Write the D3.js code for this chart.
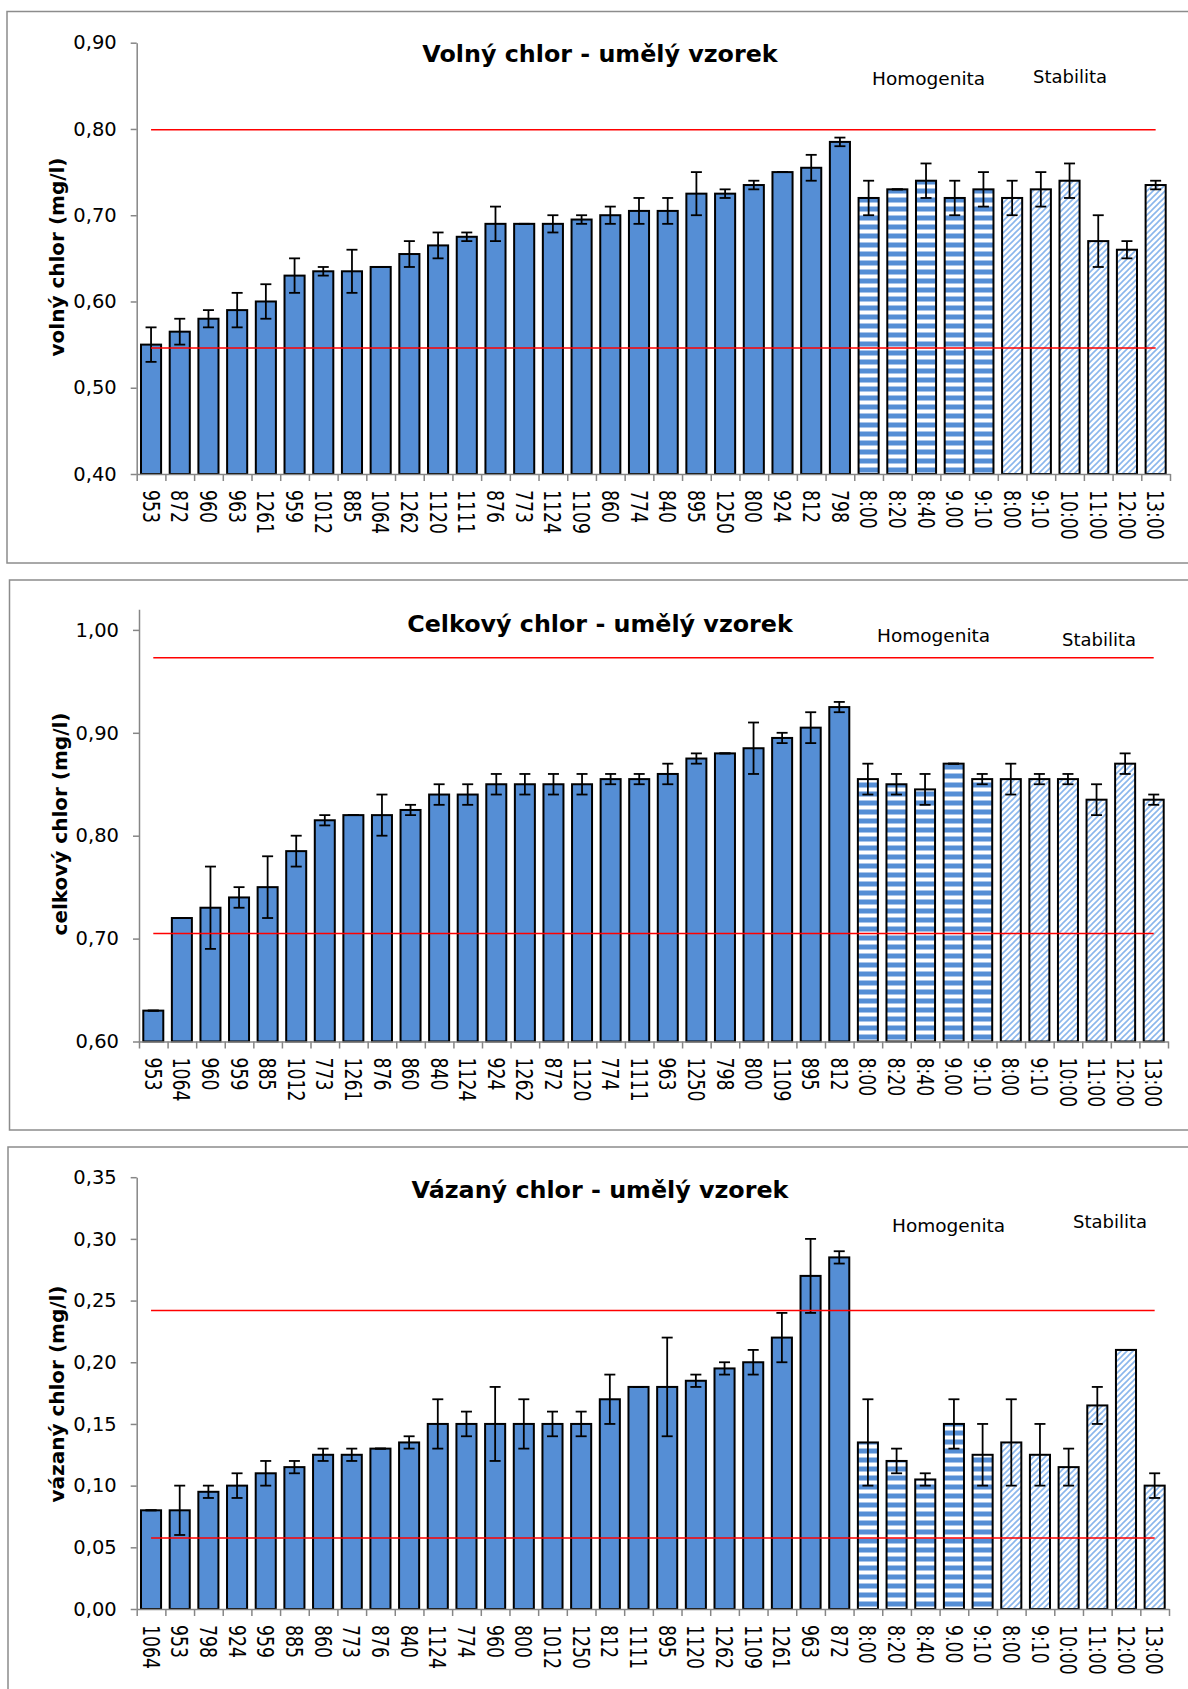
<!DOCTYPE html>
<html>
<head>
<meta charset="utf-8">
<script src="https://cdn.jsdelivr.net/npm/d3@7"></script>
<style>
  body { margin: 0; background: #fff; }
  text { font-family: "DejaVu Sans", Verdana, sans-serif; fill: #000; }
</style>
</head>
<body>
<svg id="chart"></svg>
<script>
const W = 1188, H = 1689;

// category labels shared by all three charts
const homLabels = ["8:00", "8:20", "8:40", "9.00", "9:10"];
const stabLabels = ["8:00", "9:10", "10:00", "11:00", "12:00", "13:00"];

// Volný chlor
const volnySamples = ["953","872","960","963","1261","959","1012","885","1064","1262","1120","1111","876","773","1124","1109","860","774","840","895","1250","800","924","812","798"];
const volnyValues = [0.550,0.565,0.580,0.590,0.600,0.630,0.635,0.635,0.640,0.655,0.665,0.675,0.690,0.690,0.690,0.695,0.700,0.705,0.705,0.725,0.725,0.735,0.750,0.755,0.785,
  0.720,0.730,0.740,0.720,0.730,
  0.720,0.730,0.740,0.670,0.660,0.735];
const volnyErrors = [0.020,0.015,0.010,0.020,0.020,0.020,0.005,0.025,0,0.015,0.015,0.005,0.020,0,0.010,0.005,0.010,0.015,0.015,0.025,0.005,0.005,0,0.015,0.005,
  0.020,0,0.020,0.020,0.020,
  0.020,0.020,0.020,0.030,0.010,0.005];
const volnyLimits = [0.546, 0.799];
const volnyTicks = [0.40, 0.50, 0.60, 0.70, 0.80, 0.90];

// Celkový chlor
const celkovySamples = ["953","1064","960","959","885","1012","773","1261","876","860","840","1124","924","1262","872","1120","774","1111","963","1250","798","800","1109","895","812"];
const celkovyValues = [0.630,0.720,0.730,0.740,0.750,0.785,0.815,0.820,0.820,0.825,0.840,0.840,0.850,0.850,0.850,0.850,0.855,0.855,0.860,0.875,0.880,0.885,0.895,0.905,0.925,
  0.855,0.850,0.845,0.870,0.855,
  0.855,0.855,0.855,0.835,0.870,0.835];
const celkovyErrors = [0,0,0.040,0.010,0.030,0.015,0.005,0,0.020,0.005,0.010,0.010,0.010,0.010,0.010,0.010,0.005,0.005,0.010,0.005,0,0.025,0.005,0.015,0.005,
  0.015,0.010,0.015,0,0.005,
  0.015,0.005,0.005,0.015,0.010,0.005];
const celkovyLimits = [0.705, 0.973];
const celkovyTicks = [0.60, 0.70, 0.80, 0.90, 1.00];

// Vázaný chlor
const vazanySamples = ["1064","953","798","924","959","885","860","773","876","840","1124","774","960","800","1012","1250","812","1111","895","1120","1262","1109","1261","963","872"];
const vazanyValues = [0.080,0.080,0.095,0.100,0.110,0.115,0.125,0.125,0.130,0.135,0.150,0.150,0.150,0.150,0.150,0.150,0.170,0.180,0.180,0.185,0.195,0.200,0.220,0.270,0.285,
  0.135,0.120,0.105,0.150,0.125,
  0.135,0.125,0.115,0.165,0.210,0.100];
const vazanyErrors = [0,0.020,0.005,0.010,0.010,0.005,0.005,0.005,0,0.005,0.020,0.010,0.030,0.020,0.010,0.010,0.020,0,0.040,0.005,0.005,0.010,0.020,0.030,0.005,
  0.035,0.010,0.005,0.020,0.025,
  0.035,0.025,0.015,0.015,0,0.010];
const vazanyLimits = [0.0575, 0.242];
const vazanyTicks = [0.00, 0.05, 0.10, 0.15, 0.20, 0.25, 0.30, 0.35];

const svg = d3.select("#chart").attr("width", W).attr("height", H);

// fill patterns
const defs = svg.append("defs");
const hs = defs.append("pattern").attr("id", "hstripe")
  .attr("patternUnits", "userSpaceOnUse").attr("width", 10).attr("height", 9);
hs.append("rect").attr("width", 10).attr("height", 9).attr("fill", "#fff");
hs.append("rect").attr("y", 0).attr("width", 10).attr("height", 4).attr("fill", "#558ed5");
hs.append("rect").attr("y", 4).attr("width", 10).attr("height", 1).attr("fill", "#a9c5ea");
hs.append("rect").attr("y", 8).attr("width", 10).attr("height", 1).attr("fill", "#a9c5ea");

const dg = defs.append("pattern").attr("id", "diag")
  .attr("patternUnits", "userSpaceOnUse").attr("width", 6).attr("height", 6);
dg.append("rect").attr("width", 6).attr("height", 6).attr("fill", "#fff");
dg.append("path").attr("d", "M-1,1 l2,-2 M0,6 l6,-6 M5,7 l2,-2")
  .attr("stroke", "#8ab6ec").attr("stroke-width", 1.6);

const fmt = v => d3.format(".2f")(v).replace(".", ",");

function drawPanel(p) {
  const g = svg.append("g");

  g.append("rect")
    .attr("x", p.box[0]).attr("y", p.box[1])
    .attr("width", 1300).attr("height", p.box[2] - p.box[1])
    .attr("fill", "none").attr("stroke", "#8c8c8c").attr("stroke-width", 1.5);

  const labels = p.samples.concat(homLabels, stabLabels);
  const n = labels.length;
  const nSolid = p.samples.length, nHom = homLabels.length;

  const x = d3.scaleBand().domain(d3.range(n)).range([p.x0, p.x1])
    .paddingInner(0.3).paddingOuter(0.15);
  const xb = d3.scaleLinear().domain([0, n]).range([p.x0, p.x1]);
  const y = d3.scaleLinear().domain(p.domain).range([p.yBottom, p.yTop]);
  const bw = x.bandwidth();

  // y axis
  const ya = g.append("g").attr("transform", `translate(${p.x0},0)`)
    .call(d3.axisLeft(y).tickValues(p.ticks).tickFormat(fmt).tickSize(6).tickSizeOuter(0).tickPadding(14));
  ya.select(".domain").attr("stroke", "#868686").attr("stroke-width", 1.5);
  ya.selectAll(".tick line").attr("stroke", "#868686").attr("stroke-width", 1.5);
  ya.selectAll(".tick text").attr("font-size", 19.5).attr("font-family", "DejaVu Sans").attr("fill", "#000");

  // bars
  g.selectAll(".bar").data(p.values).join("rect")
    .attr("x", (d, i) => x(i)).attr("width", bw)
    .attr("y", d => y(d)).attr("height", d => p.yBottom - y(d))
    .attr("fill", (d, i) => i < nSolid ? "#558ed5" : (i < nSolid + nHom ? "url(#hstripe)" : "url(#diag)"))
    .attr("stroke", "#000").attr("stroke-width", 2);

  // x axis with ticks on category boundaries
  const xa = g.append("g").attr("transform", `translate(0,${p.yBottom})`)
    .call(d3.axisBottom(xb).tickValues(d3.range(n + 1)).tickFormat("").tickSize(7).tickSizeOuter(0));
  xa.select(".domain").attr("stroke", "#868686").attr("stroke-width", 1.5);
  xa.selectAll(".tick line").attr("stroke", "#868686").attr("stroke-width", 1.5);

  g.selectAll(".xlab").data(labels).join("text")
    .attr("transform", (d, i) => `translate(${x(i) + bw / 2},${p.yBottom + 16}) rotate(90) scale(1,1.35)`)
    .attr("dy", "0.36em")
    .attr("font-size", 17.3)
    .text(d => d);

  // error bars
  const cap = 5.5;
  const eb = g.selectAll(".err").data(p.values).join("g")
    .attr("stroke", "#000").attr("stroke-width", 1.8);
  eb.append("line")
    .attr("x1", (d, i) => x(i) + bw / 2).attr("x2", (d, i) => x(i) + bw / 2)
    .attr("y1", (d, i) => y(d + p.errors[i])).attr("y2", (d, i) => y(d - p.errors[i]));
  eb.append("line")
    .attr("x1", (d, i) => x(i) + bw / 2 - cap).attr("x2", (d, i) => x(i) + bw / 2 + cap)
    .attr("y1", (d, i) => y(d + p.errors[i])).attr("y2", (d, i) => y(d + p.errors[i]));
  eb.append("line")
    .attr("x1", (d, i) => x(i) + bw / 2 - cap).attr("x2", (d, i) => x(i) + bw / 2 + cap)
    .attr("y1", (d, i) => y(d - p.errors[i])).attr("y2", (d, i) => y(d - p.errors[i]));

  // limit lines
  g.selectAll(".limit").data(p.limits).join("line")
    .attr("x1", x(0) + bw / 2).attr("x2", x(n - 1) + bw / 2)
    .attr("y1", d => y(d)).attr("y2", d => y(d))
    .attr("stroke", "#ff0000").attr("stroke-width", 1.5);

  // texts
  g.append("text").attr("x", 600).attr("y", p.titleY)
    .attr("text-anchor", "middle").attr("font-size", 23.8).attr("font-weight", "bold")
    .text(p.title);
  g.append("text").attr("x", p.homPos[0]).attr("y", p.homPos[1])
    .attr("font-size", 18.5).text("Homogenita");
  g.append("text").attr("x", p.stabPos[0]).attr("y", p.stabPos[1])
    .attr("font-size", 18).text("Stabilita");
  g.append("text")
    .attr("transform", `translate(${p.yTitle[0]},${p.yTitle[1]}) rotate(-90)`)
    .attr("text-anchor", "middle").attr("dy", "0.35em")
    .attr("font-size", 20).attr("font-weight", "bold")
    .text(p.yLabel);
}

drawPanel({
  box: [7, 11.5, 563],
  x0: 136.7, x1: 1170, yBottom: 474, yTop: 42.7,
  domain: [0.40, 0.90], ticks: volnyTicks,
  samples: volnySamples, values: volnyValues, errors: volnyErrors, limits: volnyLimits,
  title: "Volný chlor - umělý vzorek", titleY: 62,
  homPos: [872, 85], stabPos: [1033, 83],
  yLabel: "volný chlor (mg/l)", yTitle: [57, 257]
});

drawPanel({
  box: [9.5, 580, 1130],
  x0: 139, x1: 1168, yBottom: 1041.5, yTop: 1041.5 - 4.2 * 102.9,
  domain: [0.60, 1.02], ticks: celkovyTicks,
  samples: celkovySamples, values: celkovyValues, errors: celkovyErrors, limits: celkovyLimits,
  title: "Celkový chlor - umělý vzorek", titleY: 632,
  homPos: [877, 642], stabPos: [1062, 646],
  yLabel: "celkový chlor (mg/l)", yTitle: [60, 824]
});

drawPanel({
  box: [8, 1147, 1760],
  x0: 136.7, x1: 1169, yBottom: 1609, yTop: 1177.2,
  domain: [0.00, 0.35], ticks: vazanyTicks,
  samples: vazanySamples, values: vazanyValues, errors: vazanyErrors, limits: vazanyLimits,
  title: "Vázaný chlor - umělý vzorek", titleY: 1198,
  homPos: [892, 1232], stabPos: [1073, 1228],
  yLabel: "vázaný chlor (mg/l)", yTitle: [57, 1394]
});
</script>
</body>
</html>
